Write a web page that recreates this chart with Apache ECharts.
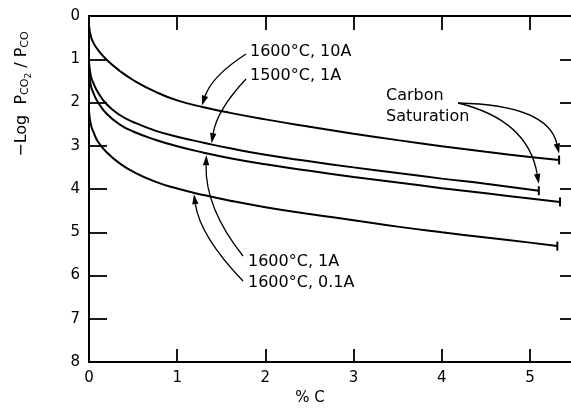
<!DOCTYPE html>
<html><head><meta charset="utf-8">
<script src="https://cdn.jsdelivr.net/npm/echarts/dist/echarts.min.js"></script>
<style>html,body{margin:0;padding:0;background:#fff}#c{width:571px;height:409px}</style>
</head><body><div id="c"></div>
<script>
// ---- data ----
const xTickValues = [0, 1, 2, 3, 4, 5];
const yTickValues = [0, 1, 2, 3, 4, 5, 6, 7, 8];
const seriesNames = ['1600°C, 10A', '1500°C, 1A', '1600°C, 1A', '1600°C, 0.1A'];
const x10A = [0, 0.02, 0.05, 0.1, 0.2, 0.35, 0.5, 0.75, 1, 1.3, 1.6, 2, 2.5, 3, 3.5, 4, 4.5, 5, 5.33];
const y10A = [0.22, 0.46, 0.62, 0.78, 1.01, 1.27, 1.48, 1.75, 1.95, 2.11, 2.24, 2.39, 2.56, 2.72, 2.87, 3.01, 3.14, 3.26, 3.33];
const x1500 = [0, 0.02, 0.05, 0.1, 0.2, 0.35, 0.5, 0.75, 1, 1.3, 1.6, 2, 2.5, 3, 3.5, 4, 4.5, 5.1];
const y1500 = [1.05, 1.38, 1.55, 1.76, 2.04, 2.29, 2.45, 2.65, 2.79, 2.93, 3.06, 3.21, 3.36, 3.5, 3.63, 3.76, 3.88, 4.04];
const x1A = [0, 0.02, 0.05, 0.1, 0.2, 0.35, 0.5, 0.75, 1, 1.3, 1.6, 2, 2.5, 3, 3.5, 4, 4.5, 5, 5.34];
const y1A = [1.28, 1.6, 1.78, 1.99, 2.26, 2.51, 2.67, 2.86, 3.01, 3.16, 3.29, 3.43, 3.58, 3.72, 3.85, 3.98, 4.1, 4.22, 4.3];
const x01A = [0, 0.02, 0.05, 0.1, 0.2, 0.35, 0.5, 0.75, 1, 1.3, 1.6, 2, 2.5, 3, 3.5, 4, 4.5, 5, 5.31];
const y01A = [2.2, 2.5, 2.68, 2.9, 3.15, 3.41, 3.6, 3.83, 3.99, 4.14, 4.27, 4.42, 4.58, 4.72, 4.87, 5.0, 5.12, 5.24, 5.32];

const FONT = 'DejaVu Sans';
const X_MAX = 5.465;
const chart = echarts.init(document.getElementById('c'), null, {renderer: 'canvas'});

function mk(xs, ys, name) {
  const d = xs.map((x, i) => {
    const it = {value: [x, ys[i]]};
    if (i === xs.length - 1) { it.symbol = 'rect'; it.symbolSize = [2, 9]; }
    return it;
  });
  return {
    type: 'line', name, data: d, smooth: 0.5,
    symbol: 'none', showSymbol: true, showAllSymbol: true,
    itemStyle: {color: '#000'}, lineStyle: {color: '#000', width: 2},
    silent: true, animation: false
  };
}

const tickStyle = {color: '#000', width: 1.8};
chart.setOption({
  animation: false,
  backgroundColor: '#fff',
  grid: {left: 89, right: 0, top: 16, bottom: 47, outerBoundsMode: 'none', containLabel: false},
  xAxis: [{
    type: 'value', min: 0, max: X_MAX, interval: 1,
    name: '% C', nameLocation: 'middle', nameGap: 24,
    nameTextStyle: {color: '#000', fontSize: 15, fontFamily: FONT, padding: [0, 40, 0, 0]},
    axisLine: {show: true, onZero: false, lineStyle: {color: '#000', width: 2}},
    axisTick: {show: true, inside: true, length: 13, lineStyle: tickStyle, customValues: xTickValues},
    axisLabel: {color: '#000', fontSize: 15, fontFamily: FONT, margin: 9, customValues: xTickValues},
    splitLine: {show: false}
  }, {
    type: 'value', min: 0, max: X_MAX, interval: 1, position: 'top',
    axisLine: {show: true, onZero: false, lineStyle: {color: '#000', width: 2}},
    axisTick: {show: true, inside: true, length: 14, lineStyle: tickStyle, customValues: xTickValues},
    axisLabel: {show: false}, splitLine: {show: false}
  }],
  yAxis: [{
    type: 'value', min: 0, max: 8, interval: 1, inverse: true,
    name: '{a|−Log  P}{b|CO}{c|2}{a| / P}{b|CO}',
    nameLocation: 'middle', nameGap: 56,
    nameTextStyle: {color: '#000', fontFamily: FONT, padding: [0, 0, 0, 190],
      rich: {
        a: {fontSize: 16, color: '#000', fontFamily: FONT},
        b: {fontSize: 11, color: '#000', fontFamily: FONT, padding: [8, 0, 0, 0]},
        c: {fontSize: 9, color: '#000', fontFamily: FONT, padding: [14, 0, 0, 0]}
      }},
    axisLine: {show: true, onZero: false, lineStyle: {color: '#000', width: 2}},
    axisTick: {show: true, inside: true, length: 18, lineStyle: tickStyle, customValues: yTickValues},
    axisLabel: {color: '#000', fontSize: 15, fontFamily: FONT, margin: 9, customValues: yTickValues},
    splitLine: {show: false}
  }, {
    type: 'value', min: 0, max: 8, interval: 1, inverse: true, position: 'right',
    axisLine: {show: false, onZero: false},
    axisTick: {show: true, inside: true, length: 11, lineStyle: tickStyle, customValues: yTickValues},
    axisLabel: {show: false}, splitLine: {show: false}
  }],
  series: [
    mk(x10A, y10A, seriesNames[0]),
    mk(x1500, y1500, seriesNames[1]),
    mk(x1A, y1A, seriesNames[2]),
    mk(x01A, y01A, seriesNames[3])
  ]
});

// ---- annotations ----
const px = (x, y) => chart.convertToPixel({xAxisIndex: 0, yAxisIndex: 0}, [x, y]);
const g = [];
function text(t, x, y) {
  g.push({type: 'text', x, y, silent: true,
    style: {text: t, fill: '#000', font: '16px "' + FONT + '"', textVerticalAlign: 'middle', textAlign: 'left'}});
}
function arrow(p0, c, p1) {
  const dx = p1[0] - c[0], dy = p1[1] - c[1];
  const len = Math.hypot(dx, dy);
  const ux = dx / len, uy = dy / len;
  const L = 10, W = 3.2;
  const bx = p1[0] - ux * L, by = p1[1] - uy * L;
  g.push({type: 'bezierCurve', silent: true,
    shape: {x1: p0[0], y1: p0[1], x2: bx, y2: by, cpx1: c[0], cpy1: c[1]},
    style: {stroke: '#000', lineWidth: 1.3, fill: null}});
  g.push({type: 'polygon', silent: true,
    shape: {points: [[p1[0], p1[1]], [bx - uy * W, by + ux * W], [bx + uy * W, by - ux * W]]},
    style: {fill: '#000'}});
}
text('1600°C, 10A', 250, 52);
text('1500°C, 1A', 250, 76);
text('1600°C, 1A', 248, 262);
text('1600°C, 0.1A', 248, 283);
text('Carbon', 386, 96);
text('Saturation', 386, 117);
arrow([246, 54], [212, 76], px(1.28, 2.07));
arrow([246, 79], [217, 110], px(1.39, 2.94));
arrow([243, 256], [205, 208], px(1.33, 3.22));
arrow([243, 281], [200, 236], px(1.19, 4.12));
arrow([458, 103], [548, 105], px(5.33, 3.18));
arrow([458, 103], [528, 120], px(5.1, 3.88));
chart.setOption({graphic: g});
</script>
</body></html>
